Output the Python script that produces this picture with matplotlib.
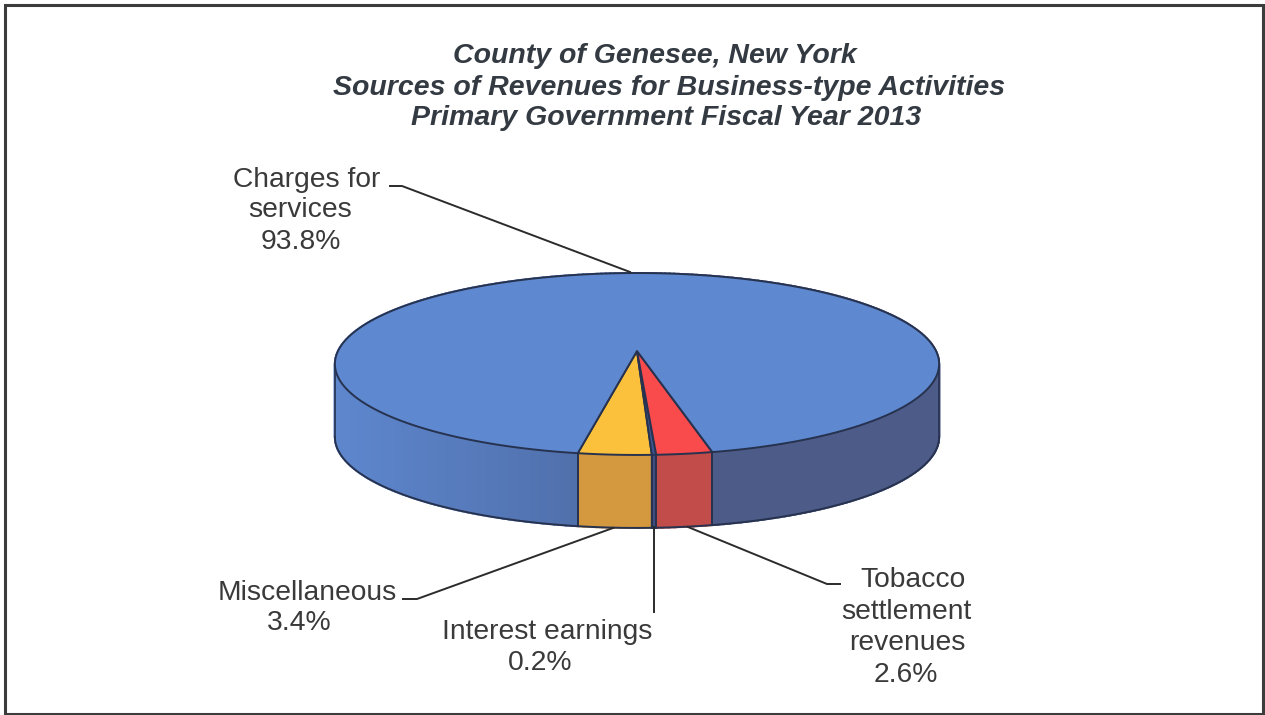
#!/usr/bin/env python3
# -*- coding: utf-8 -*-

import numpy as np
from matplotlib import pyplot as plt
from matplotlib.patches import Polygon, Rectangle

plt.rcParams['font.family'] = ['Liberation Sans', 'DejaVu Sans']

# datos de la grafica
categories = ['Miscellaneous', 'Interest earnings', 'Tobacco settlement revenues', 'Charges for services']
values = [3.4, 0.2, 2.6, 93.8]
top_colors = ['#fcc13c', '#3d5590', '#f94a4c', '#5e88d0']
wall_colors = ['#d4983f', '#3f4d80', '#c24c4a', None]

title_lines = ['County of Genesee, New York',
               'Sources of Revenues for Business-type Activities',
               'Primary Government Fiscal Year 2013']
title_x = [655, 669, 666]
title_y = [56, 88, 118]

# geometria del pastel en pixeles, con perspectiva
cx, apex_y = 637, 351
radius = 299
height = 89.1
persp = 1 / 7
depth = 73
start_deg = -9.8
edge = '#27324f'


def project(a_deg):
    a = np.radians(a_deg)
    s = 1 / (1 - persp * np.cos(a))
    return cx + radius * np.sin(a) * s, apex_y + height * np.cos(a) * s


def blue_wall(x):
    # cara lateral: izquierda clara, derecha oscura
    if x > cx:
        return '#4d5b88'
    t = np.clip((x - 335) / (578 - 335), 0, 1)
    c0 = np.array([0x5e, 0x87, 0xce]) / 255
    c1 = np.array([0x50, 0x70, 0xac]) / 255
    return tuple(c0 + (c1 - c0) * t)


fig = plt.figure(figsize=(12.65, 7.15), dpi=100)
ax = fig.add_axes([0, 0, 1, 1])
ax.set_xlim(0, 1265)
ax.set_ylim(715, 0)
ax.axis('off')

ax.add_patch(Rectangle((4.5, 4.5), 1258.5, 709, fill=False, ec='#3c3c3c', lw=2.2))

# rangos angulares de cada rebanada a partir de los valores
spans = np.array(values) / sum(values) * 360
starts = start_deg + np.concatenate([[0], np.cumsum(spans)[:-1]])

# paredes laterales
for st, sp, wall in zip(starts, spans, wall_colors):
    n = max(int(sp), 2)
    angs = np.linspace(st, st + sp, n + 1)
    for a1, a2 in zip(angs[:-1], angs[1:]):
        x1, y1 = project(a1)
        x2, y2 = project(a2)
        col = wall if wall is not None else blue_wall((x1 + x2) / 2)
        ax.add_patch(Polygon([(x1, y1), (x2, y2), (x2, y2 + depth), (x1, y1 + depth)],
                             closed=True, fc=col, ec=col, lw=1.5, zorder=2))

# borde inferior y aristas verticales visibles
limit = np.degrees(np.arccos(persp))
bx, by = project(np.linspace(-limit, limit, 300))
ax.plot(bx, by + depth, color=edge, lw=1.4, zorder=3)
ax.plot([bx[0], bx[0]], [by[0], by[0] + depth], color=edge, lw=1.2, zorder=3)
ax.plot([bx[-1], bx[-1]], [by[-1], by[-1] + depth], color=edge, lw=1.2, zorder=3)
for st in starts:
    x, y = project(st)
    ax.plot([x, x], [y, y + depth], color=edge, lw=1.4, zorder=3)

# cara superior
for st, sp, col in zip(starts, spans, top_colors):
    xs, ys = project(np.linspace(st, st + sp, max(int(sp * 2), 4)))
    pts = [(cx, apex_y)] + list(zip(xs, ys))
    ax.add_patch(Polygon(pts, closed=True, fc=col, ec=edge, lw=1.4, joinstyle='round', zorder=4))

# titulo
for line, x, y in zip(title_lines, title_x, title_y):
    ax.text(x, y, line, ha='center', va='center', fontsize=20.5, fontweight='bold',
            fontstyle='italic', color='#343a42', zorder=6)

# etiquetas de datos, linea por linea
text_color = '#3a3a3a'
labels = [(['Charges for', 'services', '%.1f%%' % values[3]], [307, 300, 301], [180, 210, 242]),
          (['Miscellaneous', '%.1f%%' % values[0]], [307, 299], [593, 623]),
          (['Interest earnings', '%.1f%%' % values[1]], [547, 540], [632, 663]),
          (['Tobacco', 'settlement', 'revenues', '%.1f%%' % values[2]],
           [913, 906, 907, 906], [580, 612, 643, 675])]
for lines, xs, ys in labels:
    for line, x, y in zip(lines, xs, ys):
        ax.text(x, y, line, ha='center', va='center', fontsize=20.3, color=text_color, zorder=6)

# lineas guia
leaders = [([390, 402, 630], [186, 186, 272]),
           ([403, 417, 613], [599, 599, 528]),
           ([654, 654], [612, 527]),
           ([840, 827, 688], [584, 584, 527])]
for xs, ys in leaders:
    ax.plot(xs, ys, color='#2b2b2b', lw=1.4, zorder=5)

fig.savefig('out.png', dpi=100)
